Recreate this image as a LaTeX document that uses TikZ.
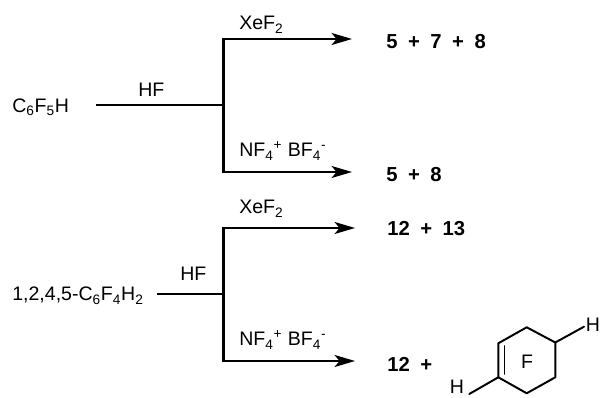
\documentclass[tikz,border=0pt]{standalone}
\usepackage{fontspec}
\setmainfont{Liberation Sans}
\usetikzlibrary{arrows.meta}
\newcommand{\prodplus}{\hspace{0.52em}+\hspace{0.52em}}
\tikzset{
  rxn/.style={line width=1.6pt},
  rxnarrow/.style={rxn, -{Stealth[length=14.5pt, width=8.5pt, inset=3.5pt]}},
  bond/.style={line width=1.4pt, line cap=round, line join=round},
  lbl/.style={anchor=base west, inner sep=0pt, font=\fontsize{13.9}{16}\selectfont},
  prod/.style={anchor=base west, inner sep=0pt, font=\fontsize{14.4}{16}\selectfont\bfseries},
  atom/.style={inner sep=0pt, font=\fontsize{13.9}{16}\selectfont}
}
\begin{document}
\begin{tikzpicture}[x=0.025cm, y=-0.025cm]
    \useasboundingbox (0,0) rectangle (600,398);
    % upper scheme
    \node[lbl] (csix) at (12, 112.5) {C\textsubscript{6}F\textsubscript{5}H};
    \coordinate (stemA) at (96, 105);
    \coordinate (forkA) at (223.5, 105);
    \coordinate (topA) at (223.5, 39);
    \coordinate (botA) at (223.5, 172);
    \node[lbl] (hfA) at (138, 97) {HF};
    \node[lbl] (xeA) at (239, 30) {XeF\textsubscript{2}};
    \node[lbl] (nfA) at (239, 157) {NF\textsubscript{4}\textsuperscript{+} BF\textsubscript{4}\textsuperscript{-}};
    \node[prod] (prodA) at (386, 49) {5\prodplus 7\prodplus 8};
    \node[prod] (prodB) at (386, 182) {5\prodplus 8};
    \coordinate (endA) at (352, 39);
    \coordinate (endB) at (352, 172);
    \draw[rxn] (stemA) -- (forkA);
    \draw[rxnarrow] (forkA) -- (topA) -- (endA);
    \draw[rxnarrow] (forkA) -- (botA) -- (endB);
    % lower scheme
    \node[lbl] (cfour) at (12, 301) {1,2,4,5-C\textsubscript{6}F\textsubscript{4}H\textsubscript{2}};
    \coordinate (stemB) at (157, 294);
    \coordinate (forkB) at (223.5, 294);
    \coordinate (topB) at (223.5, 228);
    \coordinate (botB) at (223.5, 361);
    \node[lbl] (hfB) at (180, 281) {HF};
    \node[lbl] (xeB) at (239, 214) {XeF\textsubscript{2}};
    \node[lbl] (nfB) at (239, 346) {NF\textsubscript{4}\textsuperscript{+} BF\textsubscript{4}\textsuperscript{-}};
    \node[prod] (prodC) at (387, 236) {12\prodplus 13};
    \node[prod] (prodD) at (387, 371.5) {12\prodplus};
    \coordinate (endC) at (355, 228);
    \coordinate (endD) at (355, 361);
    \draw[rxn] (stemB) -- (forkB);
    \draw[rxnarrow] (forkB) -- (topB) -- (endC);
    \draw[rxnarrow] (forkB) -- (botB) -- (endD);
    % ring
    \coordinate (r1) at (526.7, 327.3);
    \coordinate (r2) at (555.3, 342.5);
    \coordinate (r3) at (555.3, 377.3);
    \coordinate (r4) at (526.7, 393.3);
    \coordinate (r5) at (498.3, 377.3);
    \coordinate (r6) at (498.3, 343.3);
    \coordinate (d1) at (504.5, 346);
    \coordinate (d2) at (504.5, 374);
    \coordinate (hbondA) at (584, 326.7);
    \coordinate (hbondB) at (469.3, 394);
    \draw[bond] (r1) -- (r2) -- (r3) -- (r4) -- (r5) -- (r6) -- cycle;
    \draw[bond] (d1) -- (d2);
    \draw[bond] (r2) -- (hbondA);
    \draw[bond] (r5) -- (hbondB);
    \node[atom] (ringF) at (527, 362) {F};
    \node[atom] (hA) at (593, 325) {H};
    \node[atom] (hB) at (457, 387) {H};
\end{tikzpicture}
\end{document}
